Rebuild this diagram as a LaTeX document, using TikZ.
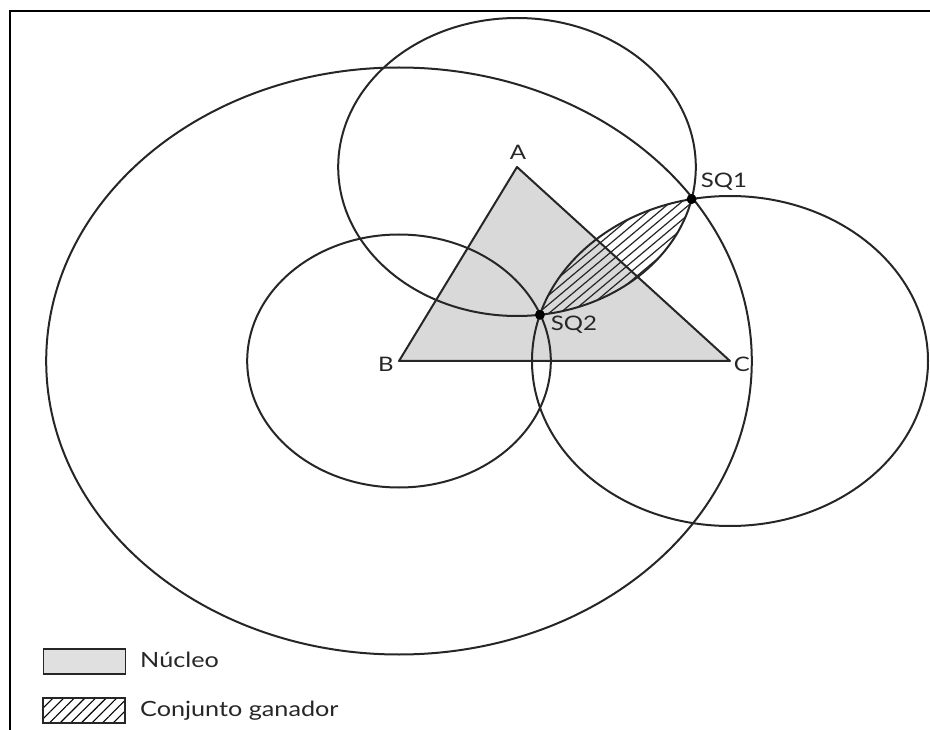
\documentclass[tikz,border=0pt]{standalone}
\usepackage{fontspec}
\setmainfont{Lato}
\usepackage{graphicx}
\usetikzlibrary{patterns.meta}
\begin{document}
\begin{tikzpicture}[x=1pt,y=-1pt,
  curve/.style={line width=2pt, line join=round, draw=black!85},
  lbl/.style={font=\fontsize{20}{22}\selectfont, inner sep=0pt, text=black!85},
  legtext/.style={font=\fontsize{21}{23}\selectfont, inner sep=0pt, anchor=base west, text=black!85},
  legbox/.style={draw=black!85, line width=1.3pt, minimum width=82pt, minimum height=25pt, inner sep=0pt},
  hatchline/.style={line width=1.2pt, draw=black!85},
  dot/.style={circle, fill=black, inner sep=0pt, minimum size=10pt}]
\useasboundingbox (0,0) rectangle (930,730);
% frame
\draw[line width=2.6pt] (930,11) -- (10,11) -- (10,730);
% points
\coordinate (A) at (517,167);
\coordinate (B) at (399,361);
\coordinate (C) at (730,361);
\coordinate (SQ1) at (691.6,199.1);
\coordinate (SQ2) at (539.9,314.8);
% nucleus
\fill[black!15] (A) -- (B) -- (C) -- cycle;
% winning set (hatched lens)
\begin{scope}
  \clip (A) ellipse [x radius=178.8, y radius=149];
  \clip (C) ellipse [x radius=198, y radius=165];
  \begin{scope}[shift={(616,257)}, rotate=40]
    \foreach \k in {-70,-63,...,70} \draw[hatchline] (-160,\k) -- (160,\k);
  \end{scope}
\end{scope}
% circles
\draw[curve] (A) ellipse [x radius=178.8, y radius=149];
\draw[curve] (B) ellipse [x radius=151.8, y radius=126.5];
\draw[curve] (C) ellipse [x radius=198, y radius=165];
\draw[curve] (B) ellipse [x radius=352.8, y radius=293.5];
% triangle
\draw[curve] (A) -- (B) -- (C) -- cycle;
% points SQ
\node[dot] (d1) at (SQ1) {};
\node[dot] (d2) at (SQ2) {};
% labels
\node[lbl] (lA) at (518,152) {\scalebox{1.2}[1]{A}};
\node[lbl] (lB) at (386,364) {\scalebox{1.2}[1]{B}};
\node[lbl] (lC) at (742,364) {\scalebox{1.2}[1]{C}};
\node[lbl] (lSQ1) at (724,182) {\scalebox{1.2}[1]{SQ1}};
\node[lbl] (lSQ2) at (574,325) {\scalebox{1.2}[1]{SQ2}};
% legend
\node[legbox, fill=black!12] (k1) at (84.5,661.5) {};
\node[legbox, pattern={Lines[angle=45, distance=7.5pt, line width=1.1pt]}] (k2) at (84,710.5) {};
\node[legtext] (t1) at (140,667) {\scalebox{1.2}[1]{Núcleo}};
\node[legtext] (t2) at (140,716) {\scalebox{1.2}[1]{Conjunto ganador}};
\end{tikzpicture}
\end{document}
